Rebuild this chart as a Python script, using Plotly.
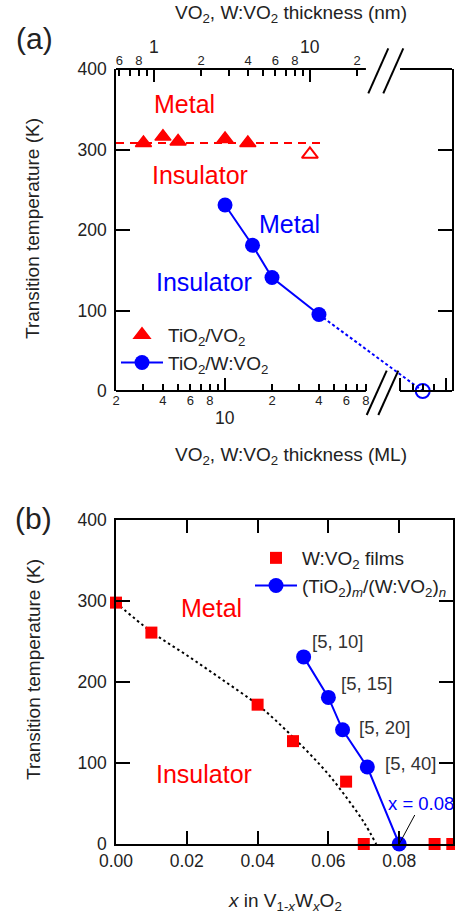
import math
import plotly.graph_objects as go

W, H = 455, 918
FONT = "Arial, 'Liberation Sans', sans-serif"
RED = "#ff0000"
BLUE = "#0000ff"
INK = "#222222"

ML_NM = 0.285          # thickness of one VO2 monolayer in nm
BULK_ML = 185          # axis position used for the bulk W:VO2 film beyond the break

# ---- panel (a): transition temperature vs. layer thickness ----
vo2_ml = [3, 4, 5, 10, 14]
vo2_tc = [308, 316, 310, 313, 308]
vo2_thick_ml = [35]
vo2_thick_tc = [294]
vo2_level_ml = [2, 42]
vo2_level_tc = [308, 308]

wvo2_ml = [10, 15, 20, 40]
wvo2_tc = [231, 181, 141, 95]
wvo2_bulk_tc = [0]

# ---- panel (b): transition temperature vs. W content ----
films_x = [0.0, 0.01, 0.04, 0.05, 0.065, 0.07, 0.09, 0.095]
films_tc = [298, 261, 172, 127, 77, 0, 0, 0]
sl_x = [0.053, 0.060, 0.064, 0.071, 0.080]
sl_tc = [231, 181, 141, 95, 0]
sl_labels = ["[5, 10]", "[5, 15]", "[5, 20]", "[5, 40]"]
guide_x = [0.0, 0.01, 0.02, 0.03, 0.04, 0.045, 0.05, 0.055, 0.06, 0.065, 0.07, 0.0735]
guide_tc = [298, 262, 233, 203, 172, 153, 132, 110, 86, 58, 27, 0]

# tick sets
ml_ticks = [2, 3, 4, 5, 6, 7, 8, 9, 20, 30, 40, 50, 60, 70, 80]
ml_text = ["2", "", "4", "", "6", "", "8", "", "2", "", "4", "", "6", "", "8"]
bulk_ticks = [160, 185, 218]
bulk_long_ticks = [132, 262]
nm_ticks = [0.6, 0.7, 0.8, 0.9, 2, 3, 4, 5, 6, 7, 8, 9, 20]
nm_text = ["6", "", "8", "", "2", "", "4", "", "6", "", "8", "", "2"]

# plot-area geometry (pixels)
AX_L, AX_R = 116, 452
A_TOP, A_BOT = 69, 391
B_TOP, B_BOT, B_R = 520, 844, 453
DECADE = 156.0


def px(x):
    return x / W


def py(y):
    return 1 - y / H


def ml_px(ml):
    return AX_L + math.log10(ml / 2) * DECADE


ml_lo = math.log10(2)
ml_hi = ml_lo + (AX_R - AX_L) / DECADE
nm_lo = math.log10(2 * ML_NM)
nm_hi = nm_lo + (AX_R - AX_L) / DECADE

fig = go.Figure()

# (a) traces
fig.add_trace(go.Scatter(x=vo2_level_ml, y=vo2_level_tc, mode="lines",
                         line=dict(color=RED, width=2, dash="8px,6px"),
                         showlegend=False, hoverinfo="skip", xaxis="x", yaxis="y"))
fig.add_trace(go.Scatter(x=vo2_ml, y=vo2_tc, mode="markers",
                         marker=dict(symbol="triangle-up", size=14, color=RED,
                                     line=dict(width=1.5, color=RED)),
                         name="TiO<sub>2</sub>/VO<sub>2</sub>", legend="legend",
                         xaxis="x", yaxis="y"))
fig.add_trace(go.Scatter(x=vo2_thick_ml, y=vo2_thick_tc, mode="markers",
                         marker=dict(symbol="triangle-up-open", size=14, color=RED,
                                     line=dict(width=2, color=RED)),
                         showlegend=False, xaxis="x", yaxis="y"))
fig.add_trace(go.Scatter(x=[wvo2_ml[-1], BULK_ML], y=[wvo2_tc[-1], wvo2_bulk_tc[0]],
                         mode="lines", line=dict(color=BLUE, width=2, dash="3px,2.5px"),
                         showlegend=False, hoverinfo="skip", xaxis="x", yaxis="y"))
fig.add_trace(go.Scatter(x=wvo2_ml, y=wvo2_tc, mode="lines+markers",
                         line=dict(color=BLUE, width=2),
                         marker=dict(symbol="circle", size=15, color=BLUE),
                         name="TiO<sub>2</sub>/W:VO<sub>2</sub>", legend="legend",
                         xaxis="x", yaxis="y"))
fig.add_trace(go.Scatter(x=[BULK_ML], y=wvo2_bulk_tc, mode="markers",
                         marker=dict(symbol="circle-open", size=14, color=BLUE,
                                     line=dict(width=2, color=BLUE)),
                         cliponaxis=False, showlegend=False, xaxis="x", yaxis="y"))

# (b) traces
fig.add_trace(go.Scatter(x=guide_x, y=guide_tc, mode="lines",
                         line=dict(color="black", width=2, dash="2.5px,3px", shape="spline"),
                         showlegend=False, hoverinfo="skip", xaxis="x3", yaxis="y3"))
fig.add_trace(go.Scatter(x=films_x, y=films_tc, mode="markers",
                         marker=dict(symbol="square", size=12, color=RED),
                         name="W:VO<sub>2</sub> films", legend="legend2",
                         cliponaxis=False, xaxis="x3", yaxis="y3"))
fig.add_trace(go.Scatter(x=sl_x, y=sl_tc, mode="lines+markers",
                         line=dict(color=BLUE, width=2),
                         marker=dict(symbol="circle", size=15, color=BLUE),
                         name="(TiO<sub>2</sub>)<sub><i>m</i></sub>/(W:VO<sub>2</sub>)<sub><i>n</i></sub>",
                         legend="legend2", cliponaxis=False, xaxis="x3", yaxis="y3"))

tick_common = dict(ticks="inside", tickcolor="black", tickwidth=1.6,
                   showgrid=False, zeroline=False)

layout = dict(
    width=W, height=H,
    margin=dict(l=0, r=0, t=0, b=0, pad=0, autoexpand=False),
    paper_bgcolor="white", plot_bgcolor="white",
    font=dict(family=FONT, color=INK, size=18),
    xaxis=dict(type="log", domain=[px(AX_L), px(AX_R)], range=[ml_lo, ml_hi],
               anchor="y", showline=False, ticklen=7,
               tickmode="array", tickvals=ml_ticks + bulk_ticks,
               ticktext=ml_text + [""] * len(bulk_ticks),
               tickfont=dict(size=13, color=INK),
               minor=dict(tickmode="array", tickvals=[10] + bulk_long_ticks, ticklen=13,
                          ticks="inside", tickcolor="black", tickwidth=1.6),
               **tick_common),
    xaxis2=dict(type="log", overlaying="x", side="top", anchor="y",
                range=[nm_lo, nm_hi], showline=False, ticklen=7,
                tickmode="array", tickvals=nm_ticks, ticktext=nm_text,
                tickfont=dict(size=13, color=INK),
                minor=dict(tickmode="array", tickvals=[1, 10], ticklen=13,
                           ticks="inside", tickcolor="black", tickwidth=1.6),
                **tick_common),
    yaxis=dict(domain=[py(A_BOT), py(A_TOP)], range=[0, 400], anchor="x",
               showline=True, linecolor="black", linewidth=1.6, mirror="ticks",
               ticklen=14, tickmode="array", tickvals=[0, 100, 200, 300, 400],
               tickfont=dict(size=17.5, color=INK), ticklabelstandoff=4,
               **tick_common),
    xaxis3=dict(domain=[px(AX_L), px(B_R)], range=[0, 0.0952], anchor="y3",
                showline=True, linecolor="black", linewidth=1.6, mirror="ticks",
                ticklen=13, tickmode="array", tickvals=[0, 0.02, 0.04, 0.06, 0.08],
                ticktext=["0.00", "0.02", "0.04", "0.06", "0.08"],
                tickfont=dict(size=17.5, color=INK), **tick_common),
    yaxis3=dict(domain=[py(B_BOT), py(B_TOP)], range=[0, 400], anchor="x3",
                showline=True, linecolor="black", linewidth=1.6, mirror="ticks",
                ticklen=14, tickmode="array", tickvals=[0, 100, 200, 300, 400],
                tickfont=dict(size=17.5, color=INK), ticklabelstandoff=4,
                **tick_common),
    legend=dict(x=px(116), y=py(316), xanchor="left", yanchor="top",
                bgcolor="rgba(0,0,0,0)", font=dict(size=19, color=INK),
                tracegroupgap=0, itemwidth=42),
    legend2=dict(x=px(250), y=py(539), xanchor="left", yanchor="top",
                 bgcolor="rgba(0,0,0,0)", font=dict(size=19, color=INK),
                 tracegroupgap=0, itemwidth=42),
    showlegend=True,
)
fig.update_layout(**layout)

# broken frame of panel (a): top and bottom lines with a gap after 80 ML
gap_l = ml_px(80)
gap_r = 400
lines = []
for yy in (A_TOP, A_BOT):
    lines.append((AX_L, yy, gap_l, yy))
    lines.append((gap_r, yy, AX_R, yy))
# axis-break marks
lines += [(368.3, 93.3, 388.3, 48.3), (383.3, 93.3, 403.3, 48.3),
          (366.7, 415, 386.7, 370.7), (378.3, 415, 398.3, 370.7)]
for i, (x0, y0, x1, y1) in enumerate(lines):
    fig.add_shape(type="line", xref="paper", yref="paper",
                  x0=px(x0), y0=py(y0), x1=px(x1), y1=py(y1),
                  line=dict(color="black", width=1.8 if i < 4 else 2))

ann = []


def text(x, y, s, size, color=INK, **kw):
    ann.append(dict(x=px(x), y=py(y), xref="paper", yref="paper", text=s,
                    showarrow=False, font=dict(size=size, color=color, family=FONT),
                    xanchor=kw.pop("xanchor", "center"), yanchor=kw.pop("yanchor", "middle"),
                    **kw))


# panel letters
text(34, 38, "(a)", 30)
text(33, 518, "(b)", 30)

# axis titles
text(291, 14, "VO<sub>2</sub>, W:VO<sub>2</sub> thickness (nm)", 19)
text(291, 456, "VO<sub>2</sub>, W:VO<sub>2</sub> thickness (ML)", 19)
text(285, 902, "<i>x</i> in V<sub>1-<i>x</i></sub>W<sub><i>x</i></sub>O<sub>2</sub>", 19)
text(33, 229, "Transition temperature (K)", 19, textangle=-90)
text(33, 670, "Transition temperature (K)", 19, textangle=-90)

# decade labels of the log axes
for v in (1, 10):
    ann.append(dict(x=math.log10(v), y=py(47), xref="x2", yref="paper", text=str(v),
                    showarrow=False, font=dict(size=17.5, color=INK, family=FONT),
                    xanchor="center", yanchor="middle"))
ann.append(dict(x=1, y=py(418), xref="x", yref="paper", text="10",
                showarrow=False, font=dict(size=17.5, color=INK, family=FONT),
                xanchor="center", yanchor="middle"))

# phase labels
text(184.5, 104, "Metal", 25, RED)
text(200, 175, "Insulator", 25, RED)
text(289.5, 224, "Metal", 25, BLUE)
text(203.5, 282, "Insulator", 25, BLUE)
text(211, 608, "Metal", 25, RED)
text(204, 774, "Insulator", 25, RED)

# superlattice labels [m, n]
for (cx, cy), s in zip([(337.5, 641), (366.5, 683), (384, 727), (410, 763)], sl_labels):
    text(cx, cy, s, 18.5, "#333333")

# critical composition
ann.append(dict(x=sl_x[-1], y=sl_tc[-1], xref="x3", yref="y3", text="x = 0.08",
                showarrow=True, arrowhead=0, arrowwidth=1, arrowcolor="black",
                ax=22, ay=-41, font=dict(size=18.5, color=BLUE, family=FONT)))

fig.update_layout(annotations=ann)
fig.write_html("out.html")
